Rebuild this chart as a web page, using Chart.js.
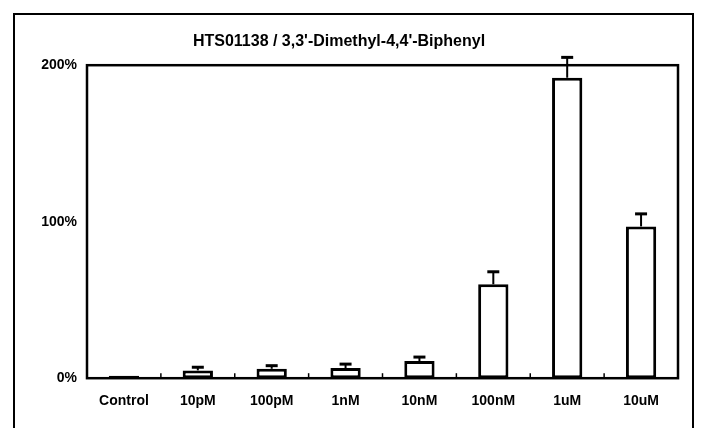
<!DOCTYPE html>
<html>
<head>
<meta charset="utf-8">
<script src="https://cdn.jsdelivr.net/npm/chart.js@4"></script>
<style>
  html, body { margin: 0; padding: 0; background: #fff; }
  canvas { display: block; }
</style>
</head>
<body>
<canvas id="chart" width="703" height="428"></canvas>
<script>
// data
const labels = ['Control', '10pM', '100pM', '1nM', '10nM', '100nM', '1uM', '10uM'];
const values = [1.5, 5, 6, 6.5, 11, 60, 192, 97];
const errors = [0, 2, 2, 2.5, 2.5, 8, 13, 8];
const yTicks = [0, 100, 200];

const FONT = '"Liberation Sans", Arial, sans-serif';

// outer frame + white page
const frame = {
  id: 'frame',
  beforeDraw(chart) {
    const ctx = chart.ctx;
    ctx.save();
    ctx.fillStyle = '#fff';
    ctx.fillRect(0, 0, chart.width, chart.height);
    ctx.strokeStyle = '#000';
    ctx.lineWidth = 2;
    ctx.strokeRect(14, 14, 679, 440);
    ctx.restore();
  },
  afterDraw(chart) {
    // plot area border and small inner ticks between categories
    const ctx = chart.ctx;
    const a = chart.chartArea;
    ctx.save();
    ctx.strokeStyle = '#000';
    ctx.lineWidth = 2.5;
    ctx.strokeRect(a.left, a.top, a.right - a.left, a.bottom - a.top);
    ctx.lineWidth = 1.5;
    const w = (a.right - a.left) / labels.length;
    for (let i = 1; i < labels.length; i++) {
      const x = a.left + i * w;
      ctx.beginPath();
      ctx.moveTo(x, a.bottom);
      ctx.lineTo(x, a.bottom - 5);
      ctx.stroke();
    }
    ctx.restore();
  }
};

// upper error bars
const errorBars = {
  id: 'errorBars',
  afterDatasetsDraw(chart) {
    const ctx = chart.ctx;
    const y = chart.scales.y;
    const meta = chart.getDatasetMeta(0);
    ctx.save();
    ctx.strokeStyle = '#000';
    meta.data.forEach((bar, i) => {
      if (!errors[i]) return;
      const top = y.getPixelForValue(values[i] + errors[i]);
      ctx.lineWidth = 2;
      ctx.beginPath();
      ctx.moveTo(bar.x, bar.y);
      ctx.lineTo(bar.x, top);
      ctx.stroke();
      ctx.lineWidth = 3;
      ctx.beginPath();
      ctx.moveTo(bar.x - 6, top);
      ctx.lineTo(bar.x + 6, top);
      ctx.stroke();
    });
    ctx.restore();
  }
};

new Chart(document.getElementById('chart'), {
  type: 'bar',
  data: {
    labels: labels,
    datasets: [{
      data: values,
      backgroundColor: '#fff',
      borderColor: '#000',
      borderWidth: 3,
      borderSkipped: false,
      categoryPercentage: 1,
      barPercentage: 0.41
    }]
  },
  options: {
    responsive: false,
    animation: false,
    devicePixelRatio: 1,
    layout: { padding: { left: 0, right: 25, top: 0, bottom: 3 } },
    plugins: {
      legend: { display: false },
      tooltip: { enabled: false },
      title: {
        display: true,
        text: "HTS01138 / 3,3'-Dimethyl-4,4'-Biphenyl",
        color: '#000',
        font: { family: FONT, size: 16, weight: 'bold' },
        padding: { top: 32, bottom: 14 }
      }
    },
    scales: {
      x: {
        grid: { display: false, drawTicks: false },
        border: { display: false },
        ticks: {
          color: '#000',
          padding: 15,
          maxRotation: 0,
          autoSkip: false,
          font: { family: FONT, size: 14, weight: 'bold' }
        }
      },
      y: {
        min: 0,
        max: 200,
        afterFit(s) { s.width = 87; },
        afterBuildTicks(s) { s.ticks = yTicks.map(v => ({ value: v })); },
        grid: { display: false, drawTicks: false },
        border: { display: false },
        ticks: {
          color: '#000',
          padding: 10,
          font: { family: FONT, size: 14, weight: 'bold' },
          callback: v => v + '%'
        }
      }
    }
  },
  plugins: [frame, errorBars]
});
</script>
</body>
</html>
